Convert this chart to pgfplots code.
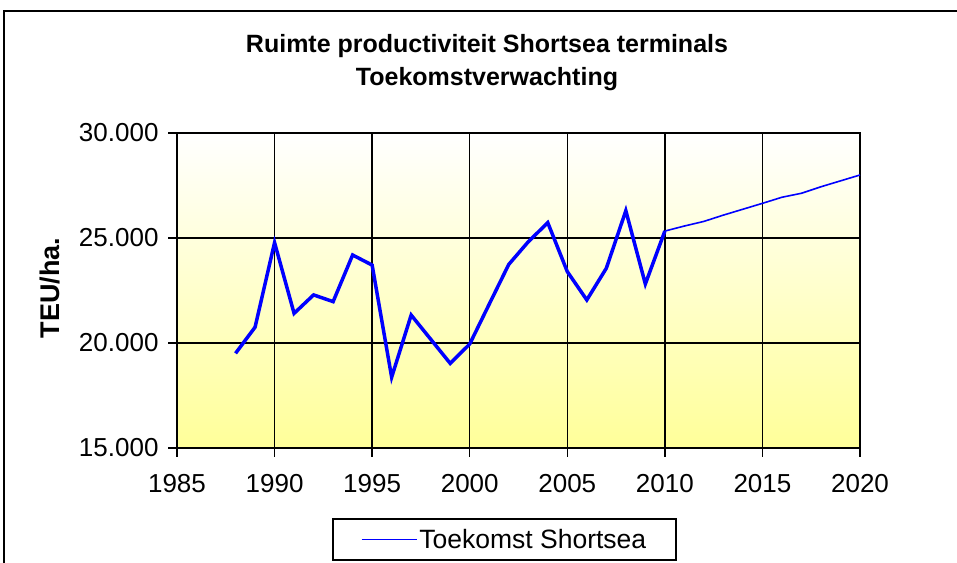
\documentclass[border=0pt]{standalone}
\usepackage{pgfplots}
\pgfplotsset{compat=1.18}
\usepackage{fontspec}
\setmainfont{Liberation Sans}
\begin{document}
\begin{tikzpicture}[x=1bp,y=1bp]
\clip (-177,-115) rectangle (780,448);
\draw[line width=2bp] (-173,-130) -- (-173,437) -- (800,437);
\node[font=\bfseries\fontsize{25bp}{33bp}\selectfont, align=center] at (310,385) {Ruimte productiviteit Shortsea terminals\\Toekomstverwachting};
\begin{axis}[
  at={(0,0)}, anchor=south west,
  scale only axis, width=683bp, height=315bp,
  clip=false,
  xmin=1985, xmax=2020, ymin=15000, ymax=30000,
  xtick={1985,1990,...,2020}, ytick={15000,20000,25000,30000},
  scaled y ticks=false,
  xtick pos=bottom, ytick pos=left,
  tick align=outside, major tick length=9bp,
  grid=major, major grid style={black, line width=1.5bp},
  axis line style={black, line width=1.5bp},
  major tick style={black, line width=1.5bp},
  axis background/.style={top color=white, bottom color=yellow!40},
  ticklabel style={font=\fontsize{26bp}{30bp}\selectfont},
  /pgf/number format/assume math mode=true,
  yticklabel style={xshift=-6bp, /pgf/number format/fixed, /pgf/number format/precision=0, /pgf/number format/1000 sep={.}, /pgf/number format/min exponent for 1000 sep=0},
  xticklabel style={yshift=-14bp, /pgf/number format/1000 sep={}},
  ylabel={TEU/ha.},
  ylabel style={font=\bfseries\fontsize{27bp}{30bp}\selectfont, at={(axis description cs:-0.186,0.508)}, anchor=center},
  legend style={at={(axis description cs:0.4795,-0.2905)}, anchor=center, draw=black, line width=1.5bp,
    font=\fontsize{26.5bp}{30bp}\selectfont, inner xsep=28bp, inner ysep=8bp},
  legend image code/.code={\draw[#1] (0bp,0bp) -- (55bp,0bp);},
  legend cell align=left,
]
\addplot[blue, line width=3.5bp, forget plot] coordinates {
(1988,19510) (1989,20750) (1990,24780) (1991,21410) (1992,22290) (1993,21970)
(1994,24190) (1995,23710) (1996,18370) (1997,21330) (1998,20180) (1999,19030)
(2000,19950) (2001,21850) (2002,23740) (2003,24820) (2004,25730) (2005,23400)
(2006,22050) (2007,23560) (2008,26300) (2009,22810) (2010,25330)};
\addplot[blue, line width=1.6bp] coordinates {
(2010,25330) (2011,25570) (2012,25790) (2013,26090) (2014,26370) (2015,26650)
(2016,26940) (2017,27130) (2018,27440) (2019,27720) (2020,28000)};
\addlegendentry{Toekomst Shortsea}
\pgfplotsinvokeforeach{1985,1990,1995,2000,2005,2010,2015,2020}{
  \draw[black, line width=1.5bp] (axis cs:#1,15000) -- ++(0bp,-9bp);}
\pgfplotsinvokeforeach{15000,20000,25000,30000}{
  \draw[black, line width=1.5bp] (axis cs:1985,#1) -- ++(-9bp,0bp);}
\end{axis}
\end{tikzpicture}
\end{document}
